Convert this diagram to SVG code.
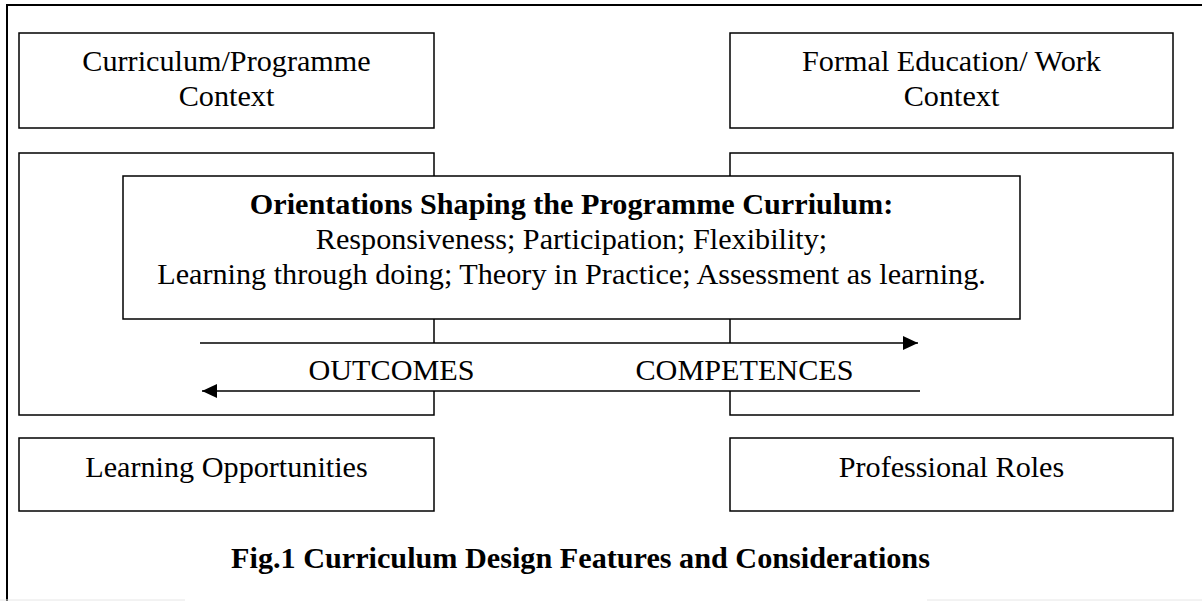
<svg xmlns="http://www.w3.org/2000/svg" width="1202" height="601" viewBox="0 0 1202 601">
  <style>
    .box { fill: #fff; stroke: #000; stroke-width: 1.5; }
    .txt { font-family: "Liberation Serif", "Times New Roman", serif; font-size: 30.2px; fill: #000; text-anchor: middle; }
    .bold { font-weight: bold; }
    .link { fill: none; stroke: #000; stroke-width: 1.4; }
  </style>
  <defs>
    <marker id="arrowhead" markerUnits="userSpaceOnUse" markerWidth="16" markerHeight="14" refX="15" refY="7" orient="auto">
      <path d="M0,0 L15,7 L0,14 Z" fill="#000"/>
    </marker>
  </defs>

  <rect width="1202" height="601" fill="#fff"/>

  <!-- outer frame: top and left sides only -->
  <path d="M7,601 V5 H1202" fill="none" stroke="#000" stroke-width="2"/>
  <path d="M0,600 H185 M927,600 H1202" fill="none" stroke="#e6e6e6" stroke-width="1"/>

  <g id="curriculum-context">
    <rect class="box" x="19" y="33" width="415" height="95"/>
    <text class="txt" x="226.5" y="71">Curriculum/Programme</text>
    <text class="txt" x="226.5" y="106">Context</text>
  </g>

  <g id="work-context">
    <rect class="box" x="730" y="33" width="443" height="95"/>
    <text class="txt" x="951.5" y="71">Formal Education/ Work</text>
    <text class="txt" x="951.5" y="106">Context</text>
  </g>

  <g id="left-frame">
    <rect class="box" x="19" y="153" width="415" height="262"/>
  </g>

  <g id="right-frame">
    <rect class="box" x="730" y="153" width="443" height="262"/>
  </g>

  <g id="orientations">
    <rect class="box" x="123" y="176" width="897" height="143"/>
    <text class="txt bold" x="571.5" y="214">Orientations Shaping the Programme Curriulum:</text>
    <text class="txt" x="571.5" y="249">Responsiveness; Participation; Flexibility;</text>
    <text class="txt" x="571.5" y="284">Learning through doing; Theory in Practice; Assessment as learning.</text>
  </g>

  <g id="connectors">
    <!-- band between the two arrows -->
    <rect x="200" y="343" width="720" height="48" fill="#fff"/>
    <line class="link" x1="200" y1="343" x2="918" y2="343" marker-end="url(#arrowhead)"/>
    <line class="link" x1="920" y1="391" x2="202" y2="391" marker-end="url(#arrowhead)"/>
    <text class="txt" x="391.5" y="380">OUTCOMES</text>
    <text class="txt" x="744.5" y="380">COMPETENCES</text>
  </g>

  <g id="learning-opportunities">
    <rect class="box" x="19" y="438" width="415" height="73"/>
    <text class="txt" x="226.5" y="477">Learning Opportunities</text>
  </g>

  <g id="professional-roles">
    <rect class="box" x="730" y="438" width="443" height="73"/>
    <text class="txt" x="951.5" y="477">Professional Roles</text>
  </g>

  <g id="caption">
    <text class="txt bold" x="580.5" y="568">Fig.1 Curriculum Design Features and Considerations</text>
  </g>
</svg>
